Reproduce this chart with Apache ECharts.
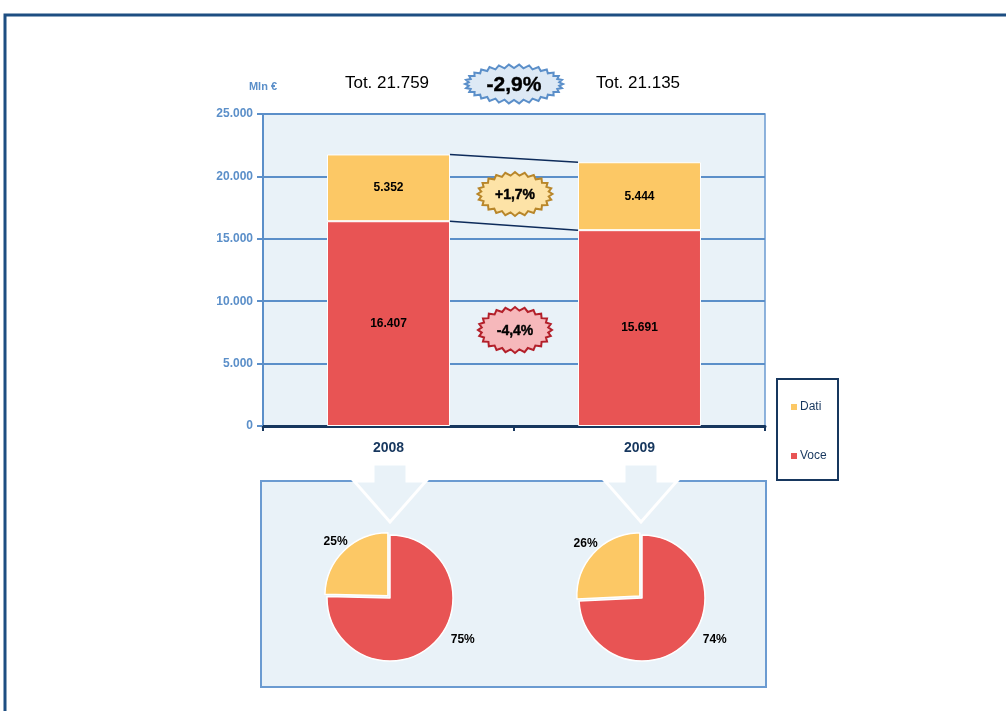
<!DOCTYPE html>
<html><head><meta charset="utf-8">
<script src="https://cdn.jsdelivr.net/npm/echarts@6/dist/echarts.min.js"></script>
<style>html,body{margin:0;padding:0;background:#fff}#c{width:1006px;height:711px}</style>
</head><body><div id="c"></div>
<script>
// ---- data ----
const years = ['2008', '2009'];
const voce = [16407, 15691];
const dati = [5352, 5444];
const legendNames = ['Dati', 'Voce'];
const yMin = 0, yMax = 25000, yStep = 5000;
const unitLabel = 'Mln €';

// ---- helpers ----
const FONT = 'Liberation Sans, Arial, sans-serif';
const fmt = n => String(n).replace(/\B(?=(\d{3})+(?!\d))/g, '.');
const pct = (a, b) => { const v = (b - a) / a * 100; return (v > 0 ? '+' : '') + v.toFixed(1).replace('.', ',') + '%'; };
const totals = years.map((y, i) => voce[i] + dati[i]);

const C_VOCE = '#e85454', C_DATI = '#fcc865', NAVY = '#17375e', BLUE = '#5b8fc9', BG = '#e9f2f8';

function zig(cx, cy, rx, ry, n, d) {
  const pts = [];
  for (let k = 0; k < 2 * n; k++) {
    const t = k * Math.PI / n;
    const o = k % 2 ? d : 0;
    pts.push([cx + (rx - o) * Math.cos(t), cy + (ry - o) * Math.sin(t)]);
  }
  return pts;
}
function badge(cx, cy, rx, ry, n, fill, stroke, text, size) {
  return [
    { type: 'polygon', z: 100, shape: { points: zig(cx, cy, rx, ry, n, 3.5) }, style: { fill: fill, stroke: stroke, lineWidth: 2 } },
    { type: 'text', z: 101, x: cx, y: cy + 1, style: { text: text, font: 'bold ' + size + 'px Liberation Sans, Arial, sans-serif', fill: '#000', stroke: '#000', lineWidth: 0.4, align: 'center', verticalAlign: 'middle' } }
  ];
}
function arrow(cx) {
  return { type: 'polygon', z: 5, shape: { points: [[cx - 17, 464], [cx + 17, 464], [cx + 17, 481], [cx + 36, 481], [cx, 522], [cx - 36, 481], [cx - 17, 481]] },
    style: { fill: BG, stroke: '#fff', lineWidth: 3 } };
}

const pieCenters = [[390, 598], [642, 598]];
const pieR = 63;

function pieSeries(i) {
  const vals = [voce[i], dati[i]];
  const tot = totals[i];
  const c = pieCenters[i];
  return {
    type: 'pie', center: c, radius: pieR, startAngle: 90, clockwise: true,
    selectedMode: 'single', selectedOffset: 3, silent: true,
    itemStyle: { borderColor: '#fff', borderWidth: 1.5 },
    label: { show: true, position: 'outside', formatter: p => Math.round(p.value / tot * 100) + '%', fontFamily: FONT, fontWeight: 'bold', fontSize: 12, color: '#000' },
    labelLine: { show: false, length: 5, length2: 0 },
    labelLayout: function (p) {
      let x, y;
      if (p.dataIndex === 1) {
        const phi = (vals[1] / tot) * Math.PI; // half-angle of Dati slice, counter-clockwise from 12 o'clock
        x = c[0] - (pieR + 12) * Math.sin(phi);
        y = c[1] - (pieR + 12) * Math.cos(phi);
      } else {
        const a = 30 * Math.PI / 180;
        x = c[0] + (pieR + 21) * Math.cos(a);
        y = c[1] + (pieR + 21) * Math.sin(a);
      }
      const r = p.labelRect;
      return { dx: x - (r.x + r.width / 2), dy: y - (r.y + r.height / 2) };
    },
    data: [
      { name: 'Voce', value: vals[0], itemStyle: { color: C_VOCE } },
      { name: 'Dati', value: vals[1], selected: true, itemStyle: { color: C_DATI } }
    ]
  };
}

const chart = echarts.init(document.getElementById('c'), null, { renderer: 'canvas' });
const option = {
  animation: false,
  backgroundColor: '#fff',
  textStyle: { fontFamily: FONT },
  grid: { left: 263, right: 241, top: 114, bottom: 285, show: true, backgroundColor: BG, borderColor: '#6b9bd1', borderWidth: 1.5, containLabel: false },
  legend: {
    data: legendNames, orient: 'vertical', left: 789, top: 401, padding: 0, itemGap: 37, itemWidth: 8, itemHeight: 8, icon: 'rect',
    textStyle: { fontFamily: FONT, fontSize: 12, color: NAVY, padding: [0, 0, 0, -3] }, selectedMode: false
  },
  xAxis: {
    type: 'category', data: years,
    axisLine: { lineStyle: { color: NAVY, width: 3 } },
    axisTick: { show: true, length: 5, lineStyle: { color: NAVY, width: 2 } },
    axisLabel: { fontFamily: FONT, fontWeight: 'bold', fontSize: 14, color: NAVY, margin: 15 }
  },
  yAxis: {
    type: 'value', min: yMin, max: yMax, interval: yStep,
    name: unitLabel, nameLocation: 'end', nameGap: 22,
    nameTextStyle: { fontFamily: FONT, fontWeight: 'bold', fontSize: 11, color: BLUE },
    axisLine: { show: true, lineStyle: { color: BLUE, width: 2 } },
    axisTick: { show: true, length: 6, lineStyle: { color: BLUE, width: 2 } },
    axisLabel: { fontFamily: FONT, fontWeight: 'bold', fontSize: 12, color: BLUE, margin: 10, formatter: v => fmt(v) },
    splitLine: { lineStyle: { color: BLUE, width: 2 } }
  },
  series: [
    { name: 'Voce', type: 'bar', stack: 't', barWidth: '49%', data: voce, silent: true,
      itemStyle: { color: C_VOCE, borderColor: '#fff', borderWidth: 1 },
      label: { show: true, position: 'inside', formatter: p => fmt(p.value), fontFamily: FONT, fontWeight: 'bold', fontSize: 12, color: '#000' } },
    { name: 'Dati', type: 'bar', stack: 't', barWidth: '49%', data: dati, silent: true,
      itemStyle: { color: C_DATI, borderColor: '#fff', borderWidth: 1 },
      label: { show: true, position: 'inside', formatter: p => fmt(p.value), fontFamily: FONT, fontWeight: 'bold', fontSize: 12, color: '#000' } },
    { type: 'custom', silent: true, z: 10,
      data: years.map((y, i) => [i, voce[i], totals[i]]),
      encode: { x: 0, y: 1 },
      renderItem: function (params, api) {
        const i = params.dataIndex;
        if (i >= years.length - 1) return null;
        const bw = api.size([1, 0])[0] * 0.49;
        const lines = [[voce[i], voce[i + 1]], [totals[i], totals[i + 1]]].map(function (lv) {
          const p0 = api.coord([i, lv[0]]);
          const p1 = api.coord([i + 1, lv[1]]);
          return { type: 'line', shape: { x1: p0[0] + bw / 2, y1: p0[1], x2: p1[0] - bw / 2, y2: p1[1] }, style: { stroke: '#0d2b5a', lineWidth: 1.5 } };
        });
        return { type: 'group', children: lines };
      }
    },
    pieSeries(0),
    pieSeries(1)
  ],
  graphic: [
    { type: 'rect', z: -10, shape: { x: 5, y: 15, width: 1100, height: 800 }, style: { fill: 'none', stroke: '#1d4e82', lineWidth: 3 } },
    { type: 'rect', z: 0, shape: { x: 261, y: 481, width: 505, height: 206 }, style: { fill: BG, stroke: '#6b9bd1', lineWidth: 2 } },
    arrow(390), arrow(641),
    { type: 'rect', z: 0, shape: { x: 777, y: 379, width: 61, height: 101 }, style: { fill: '#fff', stroke: NAVY, lineWidth: 2 } },
    { type: 'text', z: 50, x: 387, y: 83, style: { text: 'Tot. ' + fmt(totals[0]), fontFamily: FONT, fontSize: 17, fill: '#000', align: 'center', verticalAlign: 'middle' } },
    { type: 'text', z: 50, x: 638, y: 83, style: { text: 'Tot. ' + fmt(totals[1]), fontFamily: FONT, fontSize: 17, fill: '#000', align: 'center', verticalAlign: 'middle' } },
    ...badge(514, 84, 49, 19.5, 30, '#dde9f5', BLUE, pct(totals[0], totals[1]), 21),
    ...badge(515, 194, 37.5, 22, 24, '#fde3a7', '#b8862a', pct(dati[0], dati[1]), 14),
    ...badge(515, 330, 37, 23, 24, '#f6b8bb', '#b3202a', pct(voce[0], voce[1]), 14)
  ]
};
chart.setOption(option);
</script>
</body></html>
